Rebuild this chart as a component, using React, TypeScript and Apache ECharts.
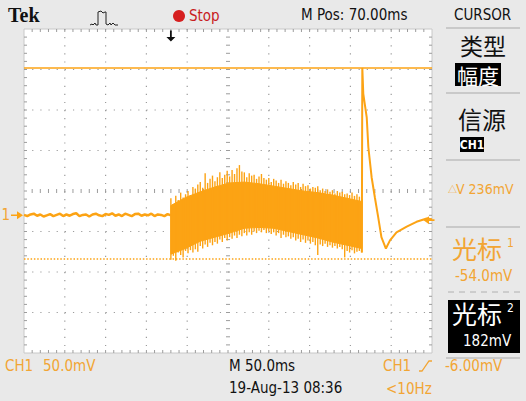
import React, { useEffect, useRef } from "react";
import * as echarts from "echarts";

// ---- data (time in ms relative to trigger, amplitude in mV) ----
const timeRange = [-180, 320];
const voltRange = [-170, 230];
const triggerTime = 0;
const triggerLevel = -6;
const cursor2 = 182; // 光标2 (selected, solid)
const cursor1 = -54; // 光标1 (dotted)

const preTrigger: [number, number][] = [
  [-180, 0.5], [-176, -1], [-172, 1], [-168, 2], [-164, -0.5], [-160, 1], [-156, -1.5], [-152, 0],
  [-148, 1.5], [-144, -1], [-140, 0.5], [-136, 2], [-132, -1], [-128, 1], [-124, -0.5], [-120, 1.5],
  [-116, 2.5], [-112, -1], [-108, 0.5], [-104, 1], [-100, -1.5], [-96, 1], [-92, 2], [-88, 0],
  [-84, -1], [-80, 1.5], [-76, 0.5], [-72, 2.5], [-68, -0.5], [-64, 1], [-60, -1], [-56, 2],
  [-52, 0.5], [-48, -1], [-44, 1.5], [-40, 2], [-36, -0.5], [-32, 1], [-28, 0], [-24, 2],
  [-20, -1], [-16, 1], [-12, 0.5], [-8, -1], [-4, 1.5], [0, 0],
];

// burst: spike tips every 3 ms
const spikeTimes = [
  0, 3, 6, 9, 12, 15, 18, 21, 24, 27,
  30, 33, 36, 39, 42, 45, 48, 51, 54, 57,
  60, 63, 66, 69, 72, 75, 78, 81, 84, 87,
  90, 93, 96, 99, 102, 105, 108, 111, 114, 117,
  120, 123, 126, 129, 132, 135, 138, 141, 144, 147,
  150, 153, 156, 159, 162, 165, 168, 171, 174, 177,
  180, 183, 186, 189, 192, 195, 198, 201, 204, 207,
  210, 213, 216, 219, 222, 225, 228, 231, 234,
];
const spikeHigh = [
  21, 14, 24, 19, 28, 22, 26, 30, 25, 35,
  33, 38, 41, 34, 52, 40, 45, 49, 42, 47,
  53, 46, 50, 55, 48, 56, 51, 58, 62, 54,
  53, 47, 52, 49, 50, 45, 48, 51, 46, 44,
  46, 41, 45, 43, 40, 44, 39, 42, 40, 37,
  41, 38, 40, 35, 39, 36, 37, 33, 35, 34,
  36, 31, 33, 30, 32, 29, 31, 27, 30, 28,
  29, 26, 27, 25, 28, 24, 26, 23, 20,
];
const spikeLow = [
  -55, -50, -56, -46, -49, -52, -44, -47, -43, -46,
  -42, -45, -38, -41, -36, -39, -34, -37, -33, -35,
  -30, -33, -28, -31, -27, -29, -25, -28, -24, -26,
  -22, -25, -21, -24, -20, -22, -19, -21, -18, -22,
  -20, -23, -21, -25, -22, -28, -24, -27, -26, -29,
  -27, -31, -29, -33, -30, -34, -31, -35, -33, -37,
  -49, -36, -38, -35, -39, -37, -40, -38, -41, -39,
  -42, -52, -44, -46, -43, -47, -45, -44, -46,
];
// burst: dense body envelope
const bodyTimes = [0, 18, 36, 54, 72, 90, 108, 126, 144, 162, 180, 198, 216, 234];
const bodyTop = [12, 22, 29, 35, 40, 41, 39, 36, 33, 30, 28, 25, 21, 17];
const bodyBottom = [-48, -41, -32, -27, -22, -16, -15, -16, -20, -24, -28, -33, -37, -41];

const afterPulse: [number, number][] = [
  [234, -46], [234.6, 182], [235.8, 150], [240, 121], [242, 84], [246, 47],
  [250, 22], [254, -2], [258, -27], [263.5, -41], [268.5, -31], [276.5, -21],
  [289, -14], [301, -8], [313.5, -4], [320, -5],
];

// ---- style ----
const ORANGE = "#FCA314";
const TXT_ORANGE = "#F2A534";
const NARROW = '"Liberation Sans Narrow", "DejaVu Sans Condensed", "Roboto Condensed", "Liberation Sans", sans-serif';
const CJK = '"Noto Sans CJK SC", sans-serif';
const GX = 24, GY = 29, GW = 408, GH = 324;

function buildGraticule() {
  const els: any[] = [];
  const dx = GW / 10, dy = GH / 8;
  const c = "#9c9c9c";
  els.push({ type: "rect", shape: { x: GX, y: GY, width: GW, height: GH }, style: { fill: "#ffffff", stroke: "#c8c8c8", lineWidth: 1 }, z: 0, silent: true });
  for (let i = 1; i < 10; i++) {
    if (i === 5) continue;
    const x = GX + i * dx;
    els.push({ type: "line", shape: { x1: x, y1: GY, x2: x, y2: GY + GH }, style: { stroke: c, lineWidth: 1.2, lineDash: [1.2, dy / 5 - 1.2] }, z: 1, silent: true });
  }
  for (let j = 1; j < 8; j++) {
    if (j === 4) continue;
    const y = GY + j * dy;
    els.push({ type: "line", shape: { x1: GX, y1: y, x2: GX + GW, y2: y }, style: { stroke: c, lineWidth: 1.2, lineDash: [1.2, dx / 5 - 1.2] }, z: 1, silent: true });
  }
  const cx = GX + 5 * dx, cy = GY + 4 * dy;
  for (let k = 1; k < 50; k++) {
    const x = GX + (k * dx) / 5;
    els.push({ type: "line", shape: { x1: x, y1: cy - 2, x2: x, y2: cy + 2 }, style: { stroke: c, lineWidth: 1 }, z: 1, silent: true });
    els.push({ type: "line", shape: { x1: x, y1: GY, x2: x, y2: GY + 3 }, style: { stroke: c, lineWidth: 1 }, z: 1, silent: true });
    els.push({ type: "line", shape: { x1: x, y1: GY + GH - 3, x2: x, y2: GY + GH }, style: { stroke: c, lineWidth: 1 }, z: 1, silent: true });
  }
  for (let k = 1; k < 40; k++) {
    const y = GY + (k * dy) / 5;
    els.push({ type: "line", shape: { x1: cx - 2, y1: y, x2: cx + 2, y2: y }, style: { stroke: c, lineWidth: 1 }, z: 1, silent: true });
    els.push({ type: "line", shape: { x1: GX, y1: y, x2: GX + 3, y2: y }, style: { stroke: c, lineWidth: 1 }, z: 1, silent: true });
    els.push({ type: "line", shape: { x1: GX + GW - 3, y1: y, x2: GX + GW, y2: y }, style: { stroke: c, lineWidth: 1 }, z: 1, silent: true });
  }
  return els;
}

function txt(text: string, x: number, y: number, size: number, fill: string, family = NARROW, align = "left", weight = "normal") {
  return {
    type: "text", x, y, z: 5, silent: true,
    style: { text, fill, fontSize: size, fontFamily: family, fontWeight: weight, textAlign: align, textVerticalAlign: "middle" },
  };
}
function hline(x1: number, x2: number, y: number, stroke = "#a9a9a9", dash?: number[]) {
  return { type: "line", z: 5, silent: true, shape: { x1, y1: y, x2, y2: y }, style: { stroke, lineWidth: 1, lineDash: dash } };
}

function buildDecor() {
  const els: any[] = [];
  // top bar
  els.push(txt("Tek", 8, 15, 20, "#111", '"Liberation Serif", "DejaVu Serif", serif', "left", "bold"));
  els.push({
    type: "polyline", z: 5, silent: true,
    shape: { points: [[90, 25], [92, 24], [93, 25], [95, 23], [96, 25], [98, 25], [98, 12], [101, 11], [103, 13], [105, 12], [106, 12], [106, 24], [108, 25], [110, 23], [111, 25], [113, 23], [115, 25], [118, 25]] },
    style: { stroke: "#222", lineWidth: 1, fill: null },
  });
  els.push({ type: "circle", z: 5, silent: true, shape: { cx: 179, cy: 16, r: 6 }, style: { fill: "#D61F1F" } });
  els.push(txt("Stop", 189, 16, 15, "#C8201E"));
  els.push(txt("M Pos: 70.00ms", 301, 15, 15, "#111"));
  els.push(txt("CURSOR", 454, 15, 15, "#111"));
  // right panel
  els.push(hline(446, 520, 28));
  els.push(txt("类型", 483, 45, 23, "#111", CJK, "center"));
  els.push({ type: "rect", z: 5, silent: true, shape: { x: 455, y: 63, width: 46, height: 23 }, style: { fill: "#000" } });
  els.push(txt("幅度", 478, 74.5, 21, "#fff", CJK, "center"));
  els.push(hline(446, 520, 93));
  els.push(txt("信源", 482, 118, 24, "#111", CJK, "center"));
  els.push({ type: "rect", z: 5, silent: true, shape: { x: 460, y: 137, width: 24, height: 15 }, style: { fill: "#000" } });
  els.push(txt("CH1", 472, 145, 12, "#fff", NARROW, "center", "bold"));
  els.push(hline(446, 520, 160));
  els.push(txt("△", 448, 189, 9, TXT_ORANGE, CJK));
  els.push(txt("V 236mV", 456, 189, 14, TXT_ORANGE));
  els.push(hline(446, 520, 227));
  els.push(txt("光标", 452, 248, 25, TXT_ORANGE, CJK));
  els.push(txt("1", 507, 243, 12, TXT_ORANGE));
  els.push(txt("-54.0mV", 455, 276, 15, TXT_ORANGE));
  els.push(hline(448, 520, 292, "#b0b0b0", [6, 5]));
  els.push({ type: "rect", z: 5, silent: true, shape: { x: 448, y: 300, width: 72, height: 53 }, style: { fill: "#000" } });
  els.push(txt("光标", 452, 313, 25, "#fff", CJK));
  els.push(txt("2", 507, 308, 12, "#fff"));
  els.push(txt("182mV", 463, 341, 15, "#fff"));
  els.push(hline(446, 520, 358));
  // bottom bar
  els.push(txt("CH1", 5, 366, 15, TXT_ORANGE));
  els.push(txt("50.0mV", 43, 366, 15, TXT_ORANGE));
  els.push(txt("M 50.0ms", 229, 366, 15, "#111"));
  els.push(txt("19-Aug-13 08:36", 229, 388, 15, "#111"));
  els.push(txt("CH1", 383, 366, 15, TXT_ORANGE));
  els.push({
    type: "polyline", z: 5, silent: true,
    shape: { points: [[419, 371], [422, 371], [429, 361], [432, 361]] },
    style: { stroke: TXT_ORANGE, lineWidth: 1.3, fill: null },
  });
  els.push(txt("-6.00mV", 445, 366, 15, TXT_ORANGE));
  els.push(txt("<10Hz", 386, 389, 15, TXT_ORANGE));
  return els;
}

export default function App() {
  const ref = useRef<HTMLDivElement>(null);
  useEffect(() => {
    if (!ref.current) return;
    const chart = echarts.init(ref.current, undefined, { renderer: "svg" });
    const option: any = {
      animation: false,
      backgroundColor: "#E9E9E9",
      grid: { left: GX, top: GY, width: GW, height: GH },
      xAxis: { type: "value", min: timeRange[0], max: timeRange[1], show: false },
      yAxis: { type: "value", min: voltRange[0], max: voltRange[1], show: false },
      graphic: { elements: [...buildGraticule(), ...buildDecor()] },
      series: [
        {
          type: "line", name: "pre", data: preTrigger, showSymbol: false, symbol: "none",
          lineStyle: { color: ORANGE, width: 2.5 }, z: 3,
          markPoint: {
            silent: true,
            data: [
              {
                coord: [timeRange[0], 0], symbol: "path://M0,4 L6,4 L6,0 L12,5 L6,10 L6,6 L0,6 Z",
                symbolSize: [12, 8], symbolOffset: [-7, 0], itemStyle: { color: ORANGE },
                label: { show: true, formatter: "1", position: "left", distance: 1, color: TXT_ORANGE, fontSize: 15, fontFamily: NARROW },
              },
              {
                coord: [triggerTime, voltRange[1]], symbol: "path://M4,0 L6,0 L6,7 L10,7 L5,12 L0,7 L4,7 Z",
                symbolSize: [9, 11], symbolOffset: [0, 7], itemStyle: { color: "#111" }, label: { show: false },
              },
            ],
          },
        },
        {
          type: "custom", name: "burstBody", data: [[0, 0]], z: 4, silent: true,
          renderItem: (_p: any, api: any) => {
            const pts: number[][] = [];
            for (let i = 0; i < bodyTimes.length; i++) pts.push(api.coord([bodyTimes[i], bodyTop[i]]));
            for (let i = bodyTimes.length - 1; i >= 0; i--) pts.push(api.coord([bodyTimes[i], bodyBottom[i]]));
            return { type: "polygon", shape: { points: pts }, style: { fill: ORANGE, stroke: ORANGE, lineWidth: 1 } };
          },
        },
        {
          type: "custom", name: "burstSpikes", z: 4, silent: true,
          data: spikeTimes.map((t, i) => [t, spikeHigh[i], spikeLow[i]]),
          renderItem: (_p: any, api: any) => {
            const a = api.coord([api.value(0), api.value(1)]);
            const b = api.coord([api.value(0), api.value(2)]);
            return { type: "line", shape: { x1: a[0], y1: a[1], x2: b[0], y2: b[1] }, style: { stroke: ORANGE, lineWidth: 1.4 } };
          },
        },
        {
          type: "line", name: "post", data: afterPulse, showSymbol: false, symbol: "none",
          lineStyle: { color: ORANGE, width: 2 }, z: 3,
          markLine: {
            silent: true, symbol: "none", label: { show: false },
            data: [
              { yAxis: cursor2, lineStyle: { color: ORANGE, width: 1.6, type: "solid" } },
              { yAxis: cursor1, lineStyle: { color: ORANGE, width: 1.5, type: [1.5, 1.8] } },
            ],
          },
          markPoint: {
            silent: true,
            data: [
              {
                coord: [timeRange[1], triggerLevel], symbol: "path://M12,4 L6,4 L6,0 L0,5 L6,10 L6,6 L12,6 Z",
                symbolSize: [11, 8], symbolOffset: [-3, 0], itemStyle: { color: ORANGE }, label: { show: false },
              },
            ],
          },
        },
      ],
    };
    chart.setOption(option);
    return () => chart.dispose();
  }, []);
  return <div ref={ref} style={{ position: "absolute", left: 0, top: 0, width: 526, height: 401 }} />;
}
